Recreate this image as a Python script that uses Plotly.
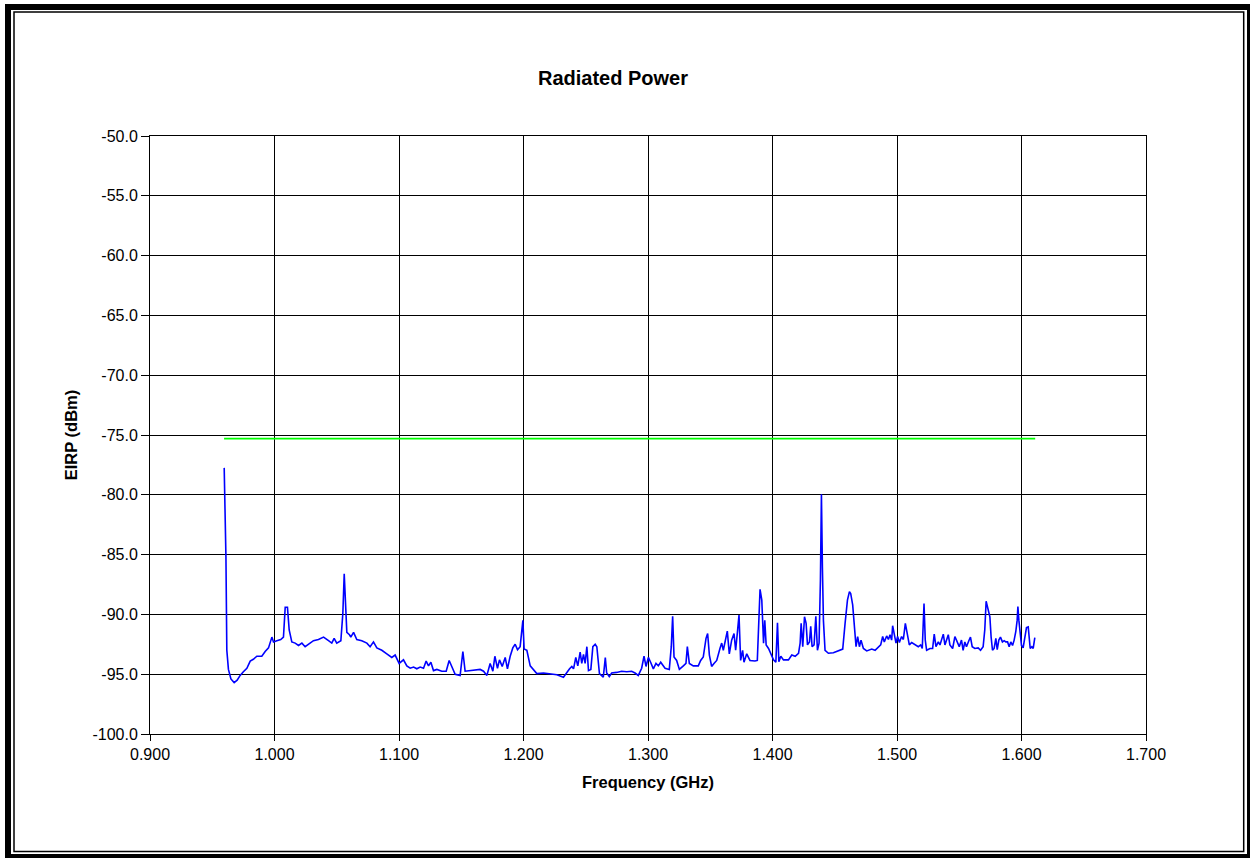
import plotly.graph_objects as go

freq_ghz = [
    0.9596, 0.9610, 0.9617, 0.9630, 0.9650, 0.9676, 0.9700, 0.9724, 0.9750, 0.9778,
    0.9805, 0.9830, 0.9858, 0.9898, 0.9925, 0.9952, 0.9979, 0.9992, 1.0019, 1.0050,
    1.0072, 1.0086, 1.0104, 1.0118, 1.0139, 1.0166, 1.0193, 1.0220, 1.0246, 1.0273,
    1.0313, 1.0353, 1.0394, 1.0434, 1.0460, 1.0479, 1.0500, 1.0533, 1.0549, 1.0560,
    1.0570, 1.0581, 1.0602, 1.0613, 1.0635, 1.0661, 1.0701, 1.0742, 1.0768, 1.0795,
    1.0822, 1.0862, 1.0902, 1.0942, 1.0969, 1.1001,
    1.1036, 1.1063, 1.1090, 1.1117, 1.1143, 1.1170, 1.1197, 1.1218, 1.1237, 1.1256,
    1.1277, 1.1304, 1.1344, 1.1379, 1.1403, 1.1424, 1.1451, 1.1491, 1.1513, 1.1531,
    1.1572, 1.1612, 1.1652, 1.1679, 1.1706, 1.1732, 1.1754, 1.1770, 1.1791, 1.1807,
    1.1829, 1.1853, 1.1871, 1.1893, 1.1914, 1.1933, 1.1952, 1.1973, 1.1995, 1.2005,
    1.2027, 1.2054, 1.2080, 1.2107, 1.2161, 1.2214, 1.2268, 1.2321, 1.2348, 1.2370,
    1.2388, 1.2402, 1.2420, 1.2436, 1.2455, 1.2468, 1.2482, 1.2495, 1.2509, 1.2522,
    1.2541, 1.2557, 1.2576, 1.2589, 1.2610,
    1.2628, 1.2641, 1.2657, 1.2668, 1.2689, 1.2708, 1.2748, 1.2788, 1.2829, 1.2869,
    1.2896, 1.2922, 1.2949, 1.2968, 1.2984, 1.3003, 1.3021, 1.3043, 1.3064, 1.3083,
    1.3102, 1.3137, 1.3171, 1.3187, 1.3198, 1.3209, 1.3230, 1.3252, 1.3284, 1.3305,
    1.3316, 1.3332, 1.3364, 1.3404, 1.3423, 1.3444, 1.3466, 1.3479, 1.3493, 1.3511,
    1.3530, 1.3552, 1.3578, 1.3592, 1.3605, 1.3621, 1.3637, 1.3653, 1.3672, 1.3691,
    1.3704, 1.3720, 1.3731, 1.3744, 1.3760, 1.3771, 1.3793, 1.3819, 1.3859, 1.3878,
    1.3892, 1.3900, 1.3914, 1.3928, 1.3938, 1.3949, 1.3968, 1.3987, 1.4008, 1.4027,
    1.4040, 1.4051, 1.4067, 1.4088, 1.4128, 1.4155, 1.4182, 1.4209, 1.4222, 1.4230,
    1.4243, 1.4257, 1.4270, 1.4281, 1.4297, 1.4307, 1.4318, 1.4334, 1.4348, 1.4361,
    1.4374, 1.4385, 1.4393, 1.4401, 1.4409, 1.4422, 1.4449, 1.4489, 1.4529, 1.4564,
    1.4583, 1.4602, 1.4618, 1.4628, 1.4644, 1.4658, 1.4671, 1.4684, 1.4698, 1.4711,
    1.4730, 1.4757, 1.4797, 1.4824, 1.4851, 1.4869, 1.4885, 1.4898, 1.4917, 1.4931,
    1.4944, 1.4957, 1.4965, 1.4979, 1.4992, 1.5005, 1.5019, 1.5037, 1.5051, 1.5067,
    1.5083, 1.5099, 1.5118, 1.5144, 1.5171, 1.5190, 1.5203, 1.5217, 1.5227, 1.5238,
    1.5265, 1.5286, 1.5299, 1.5313, 1.5332, 1.5345, 1.5358, 1.5372, 1.5385, 1.5398,
    1.5412, 1.5425, 1.5447, 1.5465, 1.5484, 1.5500,
    1.5518, 1.5531, 1.5545, 1.5558, 1.5577, 1.5590, 1.5604, 1.5625, 1.5652, 1.5671,
    1.5692, 1.5705, 1.5716, 1.5727, 1.5735, 1.5746, 1.5756, 1.5767, 1.5780, 1.5794,
    1.5805, 1.5818, 1.5831, 1.5847, 1.5861, 1.5874, 1.5888, 1.5901, 1.5914, 1.5928,
    1.5941, 1.5954, 1.5965, 1.5971, 1.5979, 1.5989, 1.6000, 1.6013, 1.6027, 1.6040,
    1.6054, 1.6062, 1.6070, 1.6083, 1.6094, 1.6107,
]

eirp_dbm = [
    -77.75, -85.2, -93.0, -94.6, -95.4, -95.7, -95.5, -95.1, -94.8, -94.5,
    -93.9, -93.75, -93.5, -93.5, -93.1, -92.8, -91.9, -92.3, -92.2, -92.1,
    -91.9, -89.4, -89.4, -91.3, -92.3, -92.4, -92.6, -92.4, -92.7, -92.5,
    -92.2, -92.1, -91.9, -92.2, -92.4, -92.0, -92.4, -92.2, -89.9, -86.6,
    -89.6, -91.5, -91.7, -91.9, -91.5, -92.1, -92.2, -92.4, -92.7, -92.3,
    -92.8, -93.0, -93.3, -93.6, -93.4, -94.1,
    -93.8, -94.3, -94.5, -94.4, -94.55, -94.4, -94.5, -93.9, -94.3, -94.0,
    -94.7, -94.6, -94.75, -94.75, -93.85, -94.35, -95.0, -95.1, -93.1, -94.75,
    -94.7, -94.7, -94.6, -94.75, -95.1, -94.1, -94.75, -93.5, -94.5, -93.8,
    -94.35, -93.6, -94.55, -93.5, -92.8, -92.5, -92.95, -92.7, -90.5, -92.9,
    -93.0, -94.3, -94.6, -94.95, -94.9, -94.95, -95.05, -95.25, -94.8, -94.55,
    -94.35, -94.55, -93.6, -94.3, -93.15, -94.1, -93.35, -94.1, -92.7, -94.7,
    -94.6, -92.7, -92.5, -92.7, -94.95,
    -95.1, -95.25, -93.6, -94.9, -95.2, -94.9, -94.85, -94.75, -94.8, -94.75,
    -94.9, -95.1, -94.5, -93.5, -94.35, -93.6, -94.0, -94.55, -94.1, -94.3,
    -94.0, -94.5, -94.6, -92.7, -90.15, -93.55, -93.85, -94.6, -94.3, -94.1,
    -92.7, -94.1, -94.3, -94.3, -93.85, -93.55, -92.0, -91.6, -93.4, -94.35,
    -94.1, -93.85, -92.85, -92.4, -93.0, -92.2, -91.4, -93.3, -92.15, -91.6,
    -93.0, -91.3, -90.05, -93.85, -93.0, -94.0, -93.3, -93.85, -93.9, -93.85,
    -89.6, -87.9, -88.8, -92.4, -90.5, -92.55, -92.85, -93.25, -93.8, -94.0,
    -90.7, -93.95, -93.5, -93.8, -93.8, -93.4, -93.5, -93.25, -92.4, -90.75,
    -92.7, -90.2, -90.75, -92.55, -92.3, -91.0, -92.7, -92.55, -90.15, -93.0,
    -92.4, -87.1, -79.95, -86.15, -90.5, -93.0, -93.25, -93.2, -93.05, -92.9,
    -90.75, -88.8, -88.1, -88.25, -89.2, -90.75, -92.7, -91.85, -92.7, -92.15,
    -92.85, -93.05, -92.9, -93.0, -92.7, -92.55, -91.85, -92.3, -91.8, -92.1,
    -91.7, -92.15, -90.95, -91.85, -92.4, -91.85, -92.35, -91.85, -92.1, -90.75,
    -91.85, -92.55, -92.35, -92.55, -92.7, -92.55, -92.85, -89.1, -92.15, -93.0,
    -92.85, -92.85, -91.65, -92.7, -92.3, -92.55, -92.15, -91.65, -92.55, -92.1,
    -91.7, -92.55, -92.85, -91.85, -92.3, -92.7,
    -92.15, -93.0, -92.3, -92.7, -92.2, -91.9, -92.7, -92.85, -92.8, -93.0,
    -92.7, -91.3, -88.9, -89.35, -89.9, -90.2, -91.9, -93.0, -92.85, -92.0,
    -92.95, -92.15, -91.9, -92.3, -92.2, -92.3, -92.3, -92.7, -92.3, -92.6,
    -92.15, -91.45, -90.5, -89.35, -90.5, -91.9, -92.6, -92.8, -91.9, -91.1,
    -91.05, -91.9, -92.85, -92.7, -92.85, -91.95,
]

limit_freq_ghz = [0.9595, 1.6110]
limit_dbm = [-75.3, -75.3]

x_tickvals = [0.9, 1.0, 1.1, 1.2, 1.3, 1.4, 1.5, 1.6, 1.7]
x_ticktext = ["0.900", "1.000", "1.100", "1.200", "1.300", "1.400", "1.500", "1.600", "1.700"]
y_tickvals = [-50, -55, -60, -65, -70, -75, -80, -85, -90, -95, -100]
y_ticktext = ["-50.0", "-55.0", "-60.0", "-65.0", "-70.0", "-75.0", "-80.0", "-85.0", "-90.0", "-95.0", "-100.0"]

W, H = 1250, 858
L, R, T, B = 150, 1146, 136, 734
PW, PH = R - L, B - T


def px(xp):
    return (xp - L) / PW


def py(yp):
    return (B - yp) / PH


FONT = "Arial, Liberation Sans, sans-serif"

fig = go.Figure()
fig.add_trace(go.Scatter(
    x=limit_freq_ghz, y=limit_dbm, mode="lines",
    line=dict(color="#00FF00", width=1.6), showlegend=False, hoverinfo="skip",
))
fig.add_trace(go.Scatter(
    x=freq_ghz, y=eirp_dbm, mode="lines",
    line=dict(color="#0000FF", width=1.6), showlegend=False,
))

axis_common = dict(
    showline=True, linecolor="black", linewidth=1, mirror=True,
    showgrid=True, gridcolor="black", gridwidth=1,
    ticks="outside", tickcolor="black", tickwidth=1,
    zeroline=False, tickfont=dict(family=FONT, size=16, color="black"),
)

fig.update_layout(
    width=W, height=H,
    margin=dict(l=L, r=W - R, t=T, b=H - B, pad=0),
    paper_bgcolor="white", plot_bgcolor="white",
    title=dict(text="<b>Radiated Power</b>", x=613 / W, xref="container", xanchor="center",
               y=1 - 78 / H, yref="container", yanchor="middle",
               font=dict(family=FONT, size=20, color="black")),
    xaxis=dict(range=[0.9, 1.7], tickvals=x_tickvals, ticktext=x_ticktext, ticklen=6,
               title=dict(text="<b>Frequency (GHz)</b>", standoff=14,
                          font=dict(family=FONT, size=16.5, color="black")),
               **axis_common),
    yaxis=dict(range=[-100, -50], tickvals=y_tickvals, ticktext=y_ticktext, ticklen=8,
               title=dict(text="<b>EIRP (dBm)</b>", standoff=10,
                          font=dict(family=FONT, size=16.5, color="black")),
               **axis_common),
    shapes=[
        dict(type="rect", xref="paper", yref="paper",
             x0=px(8), x1=px(1250), y0=py(857), y1=py(7),
             line=dict(color="black", width=6), fillcolor="rgba(0,0,0,0)", layer="above"),
        dict(type="rect", xref="paper", yref="paper",
             x0=px(14), x1=px(1243.7), y0=py(851.5), y1=py(12),
             line=dict(color="black", width=1.5), fillcolor="rgba(0,0,0,0)", layer="above"),
    ],
)

fig.write_html("out.html")
